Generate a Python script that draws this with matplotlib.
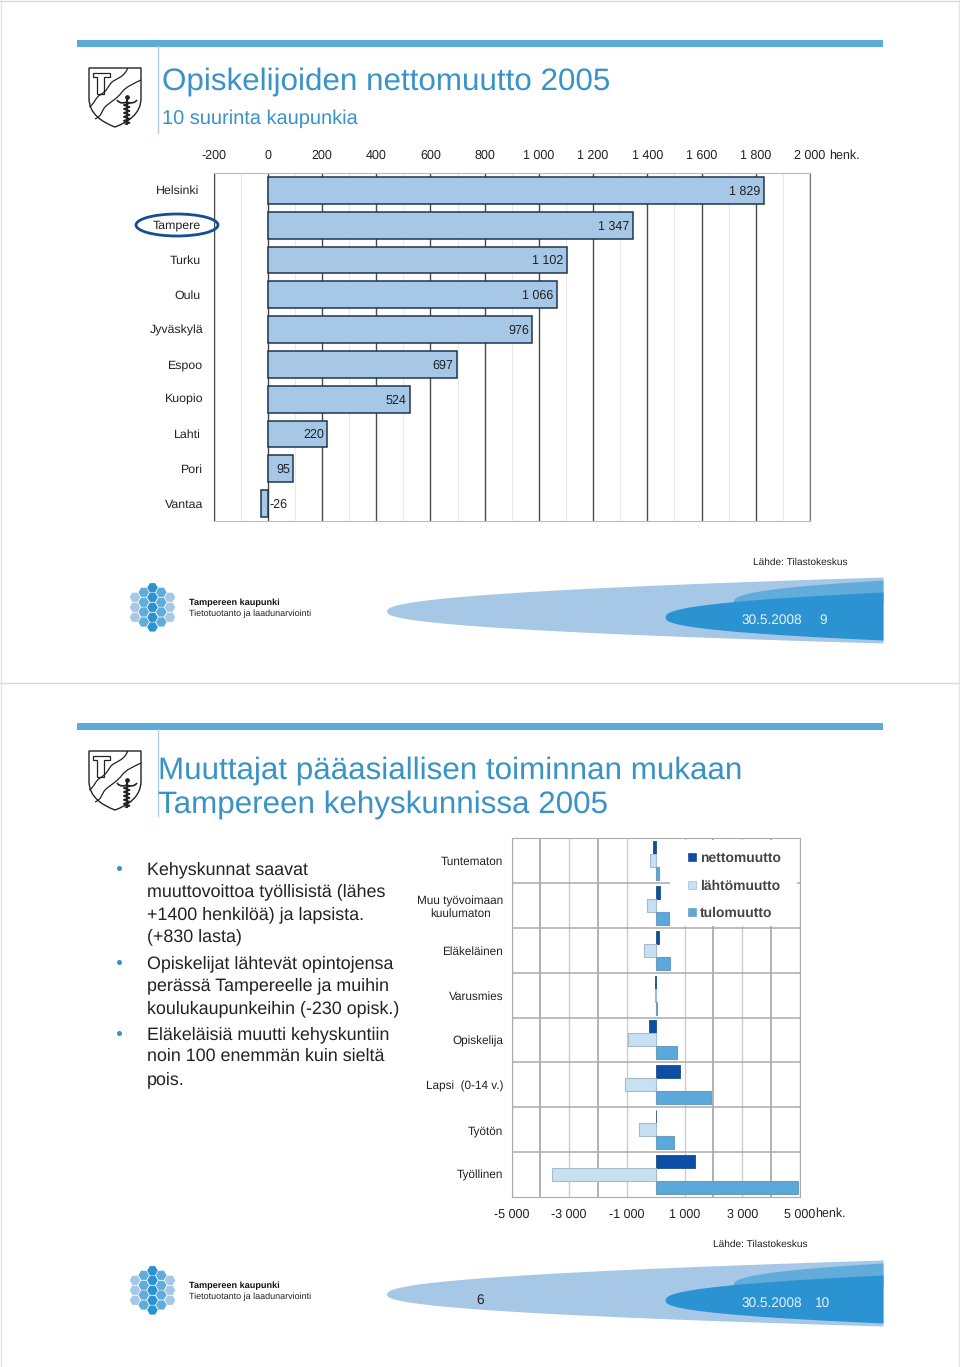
import numpy as np
import matplotlib
matplotlib.use('Agg')
import matplotlib.pyplot as plt
from matplotlib.lines import Line2D
from matplotlib.patches import Ellipse, Polygon, PathPatch, RegularPolygon, Rectangle
from matplotlib.path import Path

plt.rcParams['font.family'] = ['Liberation Sans', 'DejaVu Sans']
plt.rcParams['text.hinting'] = 'no_hinting'

W, H = 960, 1367

# slide 1 data
cities = ['Helsinki', 'Tampere', 'Turku', 'Oulu', 'Jyväskylä', 'Espoo', 'Kuopio', 'Lahti', 'Pori', 'Vantaa']
net_students = [1829, 1347, 1102, 1066, 976, 697, 524, 220, 95, -26]
city_label_gap = [14, 13, 13, 13, 10, 10, 10, 13, 10, 10]
top_ticks = [-200, 0, 200, 400, 600, 800, 1000, 1200, 1400, 1600, 1800, 2000]

# slide 2 data
groups = ['Tuntematon', 'Muu työvoimaan\nkuulumaton', 'Eläkeläinen', 'Varusmies', 'Opiskelija',
          'Lapsi  (0-14 v.)', 'Työtön', 'Työllinen']
nettomuutto = [-90, 150, 100, -20, -230, 840, 20, 1370]
lahtomuutto = [-190, -320, -400, -10, -960, -1050, -590, -3600]
tulomuutto = [100, 470, 500, 30, 730, 1900, 630, 4930]
bottom_ticks = [-5000, -3000, -1000, 1000, 3000, 5000]

bullets = [
    ['Kehyskunnat saavat', 'muuttovoittoa työllisistä (lähes', '+1400 henkilöä) ja lapsista.', '(+830 lasta)'],
    ['Opiskelijat lähtevät opintojensa', 'perässä Tampereelle ja muihin', 'koulukaupunkeihin (-230 opisk.)'],
    ['Eläkeläisiä muutti kehyskuntiin', 'noin 100 enemmän kuin sieltä', 'pois.'],
]
bullet_rows = [[869, 891, 914, 936], [963, 985, 1008], [1034, 1056, 1079]]

BLUE_BAR = '#5AABD8'
TITLE = '#3A93C6'
DARK = '#2B93D1'
MID = '#62ACDB'
LIGHT = '#A6C8E6'
INK = '#222222'


def fmt(v):
    return f'{v:,}'.replace(',', ' ')


def px_axes(fig, left, top, right, bottom):
    return fig.add_axes([left / W, 1 - bottom / H, (right - left) / W, (bottom - top) / H])


def curve(bg, pts, dy, **kw):
    # pts: start point followed by triples of bezier points
    codes = [Path.MOVETO] + [Path.CURVE4] * (len(pts) - 1)
    verts = [(x, y + dy) for x, y in pts]
    bg.add_patch(PathPatch(Path(verts, codes), fc='none', **kw))


def shield(bg, dy):
    outline = [(Path.MOVETO, (89, 68)), (Path.LINETO, (141, 68)), (Path.LINETO, (141, 98)),
               (Path.CURVE4, (141, 114)), (Path.CURVE4, (128, 122)), (Path.CURVE4, (115, 127)),
               (Path.CURVE4, (102, 122)), (Path.CURVE4, (89, 114)), (Path.CURVE4, (89, 98)),
               (Path.CLOSEPOLY, (89, 68))]
    codes, verts = zip(*outline)
    verts = [(x, y + dy) for x, y in verts]
    bg.add_patch(PathPatch(Path(verts, codes), fc='white', ec=INK, lw=1.0))
    # hammer
    hammer = [(93.3, 72.5), (110, 72.5), (110, 77), (104.3, 77), (104.3, 94.3), (97.3, 94.3), (97.3, 77), (93.3, 77)]
    bg.add_patch(Polygon([(x, y + dy) for x, y in hammer], fc='white', ec=INK, lw=0.9))
    # river
    curve(bg, [(127.7, 68), (124, 78), (116, 78), (111, 83), (107, 88), (108, 90), (100, 95),
               (95, 98), (95, 103), (89.5, 107)], dy, ec=INK, lw=0.9)
    curve(bg, [(141, 80), (133, 84), (127, 86), (122, 92), (117, 99), (110, 102), (105, 107),
               (101, 112), (102, 116), (95, 119)], dy, ec=INK, lw=0.9)
    # staff and snake
    bg.plot([126.7, 126.7], [98 + dy, 124 + dy], color=INK, lw=1.4)
    yy = np.linspace(103, 124, 60)
    bg.plot(126.7 + 3 * np.sin(yy * 1.6), yy + dy, color=INK, lw=1.0)
    curve(bg, [(117, 100), (120, 104), (124, 103), (126.7, 102), (129, 103), (134, 104), (137, 100)], dy, ec=INK, lw=1.2)
    bg.plot([126.7], [97 + dy], marker='o', ms=2.4, color=INK)


def swoosh(bg, dy):
    xs = np.linspace(0, 1, 200)
    # light band
    x = 386 + xs * (883 - 386)
    up = 611 - 34 * xs ** 0.45
    lo = 611 + 32 * xs ** 0.45
    bg.fill_between(x, up + dy, lo + dy, color=LIGHT, lw=0)
    # middle piece
    x = 733 + xs * (883 - 733)
    up = 602 - 22 * xs ** 0.4
    bg.fill_between(x, up + dy, 602 + dy, color=MID, lw=0)
    # dark piece
    x = 665 + xs * (883 - 665)
    up = 617 - 25 * xs ** 0.42
    lo = 617 + 23 * xs ** 0.42
    bg.fill_between(x, up + dy, lo + dy, color=DARK, lw=0)


def honeycomb(bg, dy):
    cols = [(135, [597.3, 607.3, 617.3], LIGHT), (143.7, [592.3, 602.3, 612, 622], MID),
            (152.5, [587.7, 597.3, 607.3, 617.3, 627], DARK), (161.3, [592.3, 602.3, 612, 622], MID),
            (170, [597.3, 607.3, 617.3], LIGHT)]
    for x, ys, c in cols:
        for y in ys:
            bg.add_patch(RegularPolygon((x, y + dy), 6, radius=5.3, orientation=np.pi / 6, fc=c, ec='none'))


def slide_frame(bg, dy):
    bg.add_patch(Rectangle((77, 40 + dy), 806, 6.5, fc=BLUE_BAR, ec='none'))
    bg.plot([157.5, 157.5], [46 + dy, 133 + dy], color='#A9CCE3', lw=0.9)
    shield(bg, dy)
    swoosh(bg, dy)
    honeycomb(bg, dy)
    bg.text(189, 602.5 + dy, 'Tampereen kaupunki', fontsize=6.55, fontweight='bold', va='center', color='#111111')
    bg.text(189, 614 + dy, 'Tietotuotanto ja laadunarviointi', fontsize=6.45, va='center', color=INK)


def main():
    fig = plt.figure(figsize=(W / 100, H / 100), dpi=100, facecolor='white')

    bg = fig.add_axes([0, 0, 1, 1], zorder=5)
    bg.set_xlim(0, W)
    bg.set_ylim(H, 0)
    bg.axis('off')
    bg.patch.set_alpha(0)

    slide_frame(bg, 0)
    slide_frame(bg, 683)
    bg.plot([0, W], [683, 683], color='#D8D8D8', lw=1)
    bg.plot([0, W], [0.5, 0.5], color='#D8D8D8', lw=1)
    bg.plot([0.5, 0.5], [0, H], color='#E4E4E4', lw=1)
    bg.plot([W - 1, W - 1], [0, H], color='#E4E4E4', lw=1)

    # top slide texts
    bg.text(162, 82, 'Opiskelijoiden nettomuutto 2005', fontsize=22.6, color=TITLE, va='center')
    bg.text(162, 119, '10 suurinta kaupunkia', fontsize=14.4, color=TITLE, va='center')
    bg.text(753, 562, 'Lähde: Tilastokeskus', fontsize=7.3, color=INK, va='center')
    bg.text(741, 620.5, '30.5.2008', fontsize=9.8, color='#E8F2FA', va='center')
    bg.text(819, 620.5, '9', fontsize=9.8, color='#E8F2FA', va='center')

    # bottom slide texts
    bg.text(158, 771, 'Muuttajat pääasiallisen toiminnan mukaan', fontsize=22.6, color=TITLE, va='center')
    bg.text(158, 805, 'Tampereen kehyskunnissa 2005', fontsize=22.6, color=TITLE, va='center')
    for lines, rows in zip(bullets, bullet_rows):
        bg.plot([119], [rows[0] - 1], marker='o', ms=2.6, color='#3A93C6')
        for line, y in zip(lines, rows):
            bg.text(147, y + 0.5, line, fontsize=12.9, color=INK, va='center')
    bg.text(713, 1244.5, 'Lähde: Tilastokeskus', fontsize=7.3, color=INK, va='center')
    bg.text(476, 1300.5, '6', fontsize=9.8, color=INK, va='center')
    bg.text(741, 1303, '30.5.2008', fontsize=9.8, color='#E8F2FA', va='center')
    bg.text(815, 1303, '10', fontsize=9.8, color='#E8F2FA', va='center')

    bg.text(829, 156, 'henk.', fontsize=9, color=INK, va='center')
    bg.text(815, 1214, 'henk.', fontsize=9, color=INK, va='center')

    # Tampere marker
    bg.add_patch(Ellipse((177, 225), 82, 22, fc='none', ec='#154C94', lw=2))

    # chart 1
    ax = px_axes(fig, 213.5, 173, 810, 521)
    y = np.arange(len(cities))
    ax.barh(y, net_students, height=0.77, color=LIGHT, edgecolor='#1F3550', lw=1.1, zorder=3)
    ax.set_xlim(-200, 2000)
    ax.set_ylim(len(cities) - 0.5, -0.5)
    ax.xaxis.tick_top()
    ax.set_xticks(top_ticks)
    ax.set_xticklabels([fmt(t) for t in top_ticks], fontsize=9, color=INK)
    ax.set_xticks(np.arange(-100, 2000, 200), minor=True)
    ax.tick_params(axis='x', which='both', length=0, pad=8.5)
    ax.set_yticks([])
    ax.grid(axis='x', which='major', color='#4A4A4A', lw=1.0, zorder=0)
    ax.grid(axis='x', which='minor', color='#EAEAEA', lw=0.8, zorder=0)
    ax.set_axisbelow(True)
    ax.spines['bottom'].set_color('#BBBBBB')
    ax.spines['top'].set_color('#BBBBBB')
    ax.spines['left'].set_color('#4A4A4A')
    ax.spines['right'].set_color('#777777')
    for i, (name, v) in enumerate(zip(cities, net_students)):
        ax.annotate(name, xy=(0, i), xycoords=('axes fraction', 'data'), xytext=(-city_label_gap[i] * 0.72, -0.5),
                    textcoords='offset points', ha='right', va='center', fontsize=8.9, color=INK)
        if v > 0:
            ax.annotate(fmt(v), xy=(v, i), xytext=(-2.5, -0.7), textcoords='offset points',
                        ha='right', va='center', fontsize=9, color=INK, zorder=4)
        else:
            ax.annotate(fmt(v), xy=(0, i), xytext=(1, -0.7), textcoords='offset points',
                        ha='left', va='center', fontsize=9, color=INK, zorder=4)

    # chart 2
    ax2 = px_axes(fig, 511.5, 838, 800, 1197)
    y2 = np.arange(len(groups))
    h = 0.29
    ax2.barh(y2 - h, nettomuutto, height=h, color='#0B4EA6', edgecolor='#1F4E80', lw=0.6, zorder=3)
    ax2.barh(y2, lahtomuutto, height=h, color='#C8E1F2', edgecolor='#A5BBCB', lw=0.8, zorder=3)
    ax2.barh(y2 + h, tulomuutto, height=h, color='#5BA9DA', edgecolor='#6D9DBE', lw=0.8, zorder=3)
    ax2.set_xlim(-5000, 5000)
    ax2.set_ylim(len(groups) - 0.5, -0.5)
    ax2.set_xticks(bottom_ticks)
    ax2.set_xticklabels([fmt(t) for t in bottom_ticks], fontsize=9, color=INK)
    ax2.set_xticks([-4000, -2000, 2000, 4000], minor=True)
    ax2.tick_params(axis='x', which='major', length=0, pad=8)
    ax2.tick_params(axis='x', which='minor', length=0)
    ax2.set_yticks(y2)
    ax2.set_yticklabels(groups, fontsize=8.5, color=INK, ha='right', multialignment='center')
    ax2.tick_params(axis='y', length=0, pad=6)
    ax2.set_yticks(np.arange(0.5, len(groups) - 1), minor=True)
    ax2.tick_params(axis='y', which='minor', length=0)
    ax2.grid(axis='x', which='major', color='#CCCCCC', lw=1.0, zorder=0)
    ax2.grid(axis='x', which='minor', color='#ABABAB', lw=1.3, zorder=0)
    ax2.grid(axis='y', which='minor', color='#ABABAB', lw=1.1, zorder=0)
    ax2.set_axisbelow(True)
    for s in ax2.spines.values():
        s.set_color('#ABABAB')
    # white block behind the legend hides the grid there
    ax2.add_patch(Rectangle((0.549, 0.755), 0.441, 0.239, transform=ax2.transAxes, fc='white', ec='none', zorder=1))
    handles = [
        Line2D([], [], ls='none', marker='s', ms=6.3, mfc='#0B4EA6', mec='#1F4E80', mew=0.5),
        Line2D([], [], ls='none', marker='s', ms=6.3, mfc='#C8E1F2', mec='#A5BBCB', mew=0.5),
        Line2D([], [], ls='none', marker='s', ms=6.3, mfc='#5BA9DA', mec='#6D9DBE', mew=0.5),
    ]
    leg = ax2.legend(handles, ['nettomuutto', 'lähtömuutto', 'tulomuutto'], loc='upper left',
                     bbox_to_anchor=(0.607, 0.9625), frameon=False, fontsize=10, handlelength=0.8,
                     labelspacing=1.06, handletextpad=0.16, borderpad=0, borderaxespad=0)
    for t in leg.get_texts():
        t.set_fontweight('bold')
        t.set_color('#444444')

    fig.savefig('out.png', dpi=100)


if __name__ == '__main__':
    main()
